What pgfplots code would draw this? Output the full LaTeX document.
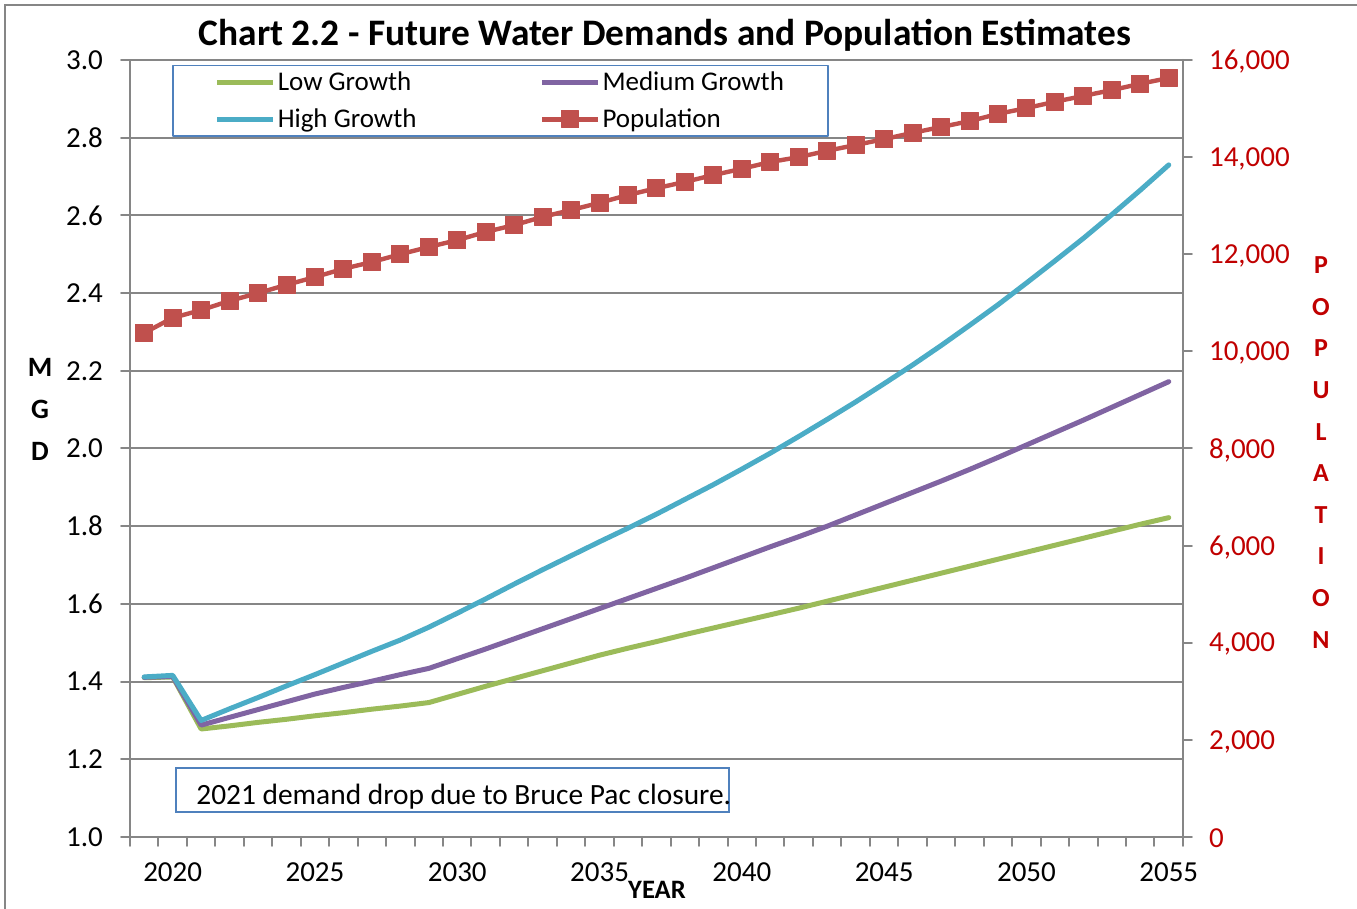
\documentclass[border=0pt]{standalone}
\usepackage{fontspec}
\setmainfont{Carlito}
\usepackage{pgfplots}
\usepackage{pgfplotstable}
\pgfplotsset{compat=1.18}
\definecolor{lowc}{HTML}{9BBB59}
\definecolor{medc}{HTML}{8064A2}
\definecolor{highc}{HTML}{4BACC6}
\definecolor{popc}{HTML}{C0504D}
\definecolor{gridc}{HTML}{868686}
\definecolor{redlab}{HTML}{C00000}
\definecolor{boxc}{HTML}{4F81BD}
\pgfplotstableread{
year low med high pop
2019 1.410 1.411 1.412 10380
2020 1.412 1.413 1.416 10690
2021 1.278 1.288 1.300 10850
2022 1.286 1.308 1.330 11040
2023 1.295 1.328 1.359 11200
2024 1.303 1.348 1.389 11370
2025 1.312 1.368 1.418 11530
2026 1.320 1.385 1.448 11700
2027 1.329 1.401 1.478 11840
2028 1.337 1.418 1.507 12000
2029 1.346 1.434 1.540 12150
2030 1.367 1.459 1.576 12290
2031 1.388 1.484 1.613 12460
2032 1.408 1.510 1.651 12600
2033 1.428 1.536 1.688 12770
2034 1.448 1.562 1.724 12910
2035 1.468 1.588 1.760 13060
2036 1.486 1.614 1.795 13220
2037 1.503 1.640 1.831 13360
2038 1.521 1.666 1.869 13490
2039 1.538 1.693 1.907 13630
2040 1.555 1.720 1.947 13760
2041 1.572 1.747 1.988 13900
2042 1.589 1.773 2.031 14000
2043 1.607 1.800 2.075 14130
2044 1.625 1.829 2.120 14250
2045 1.643 1.858 2.167 14370
2046 1.661 1.887 2.215 14500
2047 1.679 1.916 2.265 14620
2048 1.697 1.946 2.317 14740
2049 1.715 1.977 2.370 14890
2050 1.733 2.009 2.426 15010
2051 1.751 2.041 2.483 15140
2052 1.769 2.073 2.541 15260
2053 1.787 2.106 2.602 15380
2054 1.805 2.139 2.665 15510
2055 1.822 2.172 2.730 15630
}\data
\begin{document}
\begin{tikzpicture}
\begin{axis}[
  at={(65pt,36pt)}, anchor=south west,
  scale only axis, width=526.5pt, height=388.5pt,
  xmin=2018.5, xmax=2055.5, ymin=1, ymax=3,
  xtick={2018.5,2019.5,...,2055.5}, xticklabels={},
  extra x ticks={2020,2025,2030,2035,2040,2045,2050,2055},
  extra x tick labels={2020,2025,2030,2035,2040,2045,2050,2055},
  extra x tick style={tick style={draw=none}, grid=none},
  ytick={1,1.2,1.4,1.6,1.8,2,2.2,2.4,2.6,2.8,3},
  yticklabel style={xshift=-5.5pt, /pgf/number format/.cd, fixed, fixed zerofill, precision=1},
  ymajorgrids, grid style={gridc, line width=1pt},
  axis line style={gridc, line width=1pt},
  tick style={gridc, line width=1pt},
  tick align=outside, major tick length=4.5pt,
  xtick pos=left, ytick pos=left,
  ticklabel style={font=\fontsize{14.5}{16}\selectfont, text=black},
  xticklabel style={yshift=-5pt},
  /pgf/number format/assume math mode=true,
  line cap=round, line join=round,
]
\addplot[lowc, line width=2.5pt] table[x=year,y=low]{\data};
\addplot[medc, line width=2.5pt] table[x=year,y=med]{\data};
\addplot[highc, line width=2.5pt] table[x=year,y=high]{\data};
\end{axis}
\begin{axis}[
  at={(65pt,36pt)}, anchor=south west,
  scale only axis, width=526.5pt, height=388.5pt,
  xmin=2018.5, xmax=2055.5, ymin=0, ymax=16000,
  hide x axis, axis y line*=right,
  ytick={0,2000,4000,6000,8000,10000,12000,14000,16000},
  scaled y ticks=false,
  yticklabel style={xshift=5pt, yshift=-0.8pt, /pgf/number format/.cd, fixed, 1000 sep={,}, assume math mode=true},
  ticklabel style={font=\fontsize{14.5}{16}\selectfont, text=redlab},
  y axis line style={gridc, line width=1pt},
  tick style={gridc, line width=1pt},
  tick align=outside, major tick length=4.5pt,
  legend columns=2,
  legend cell align=left,
  legend image code/.code={\draw[mark repeat=2,mark phase=2,#1] plot coordinates {(0pt,0pt) (14pt,0pt) (28pt,0pt)};},
  legend style={at={(0.0399,0.9936)}, anchor=north west, draw=boxc, line width=0.75pt,
    font=\fontsize{13.5}{15}\selectfont, inner xsep=21pt, inner ysep=1pt, row sep=3.5pt,
    nodes={inner xsep=1pt},
    /tikz/column 2/.style={column sep=60.5pt}},
  line cap=round, line join=round,
]
\addlegendimage{lowc, line width=2.5pt}
\addlegendentry{Low Growth}
\addlegendimage{medc, line width=2.5pt}
\addlegendentry{Medium Growth}
\addlegendimage{highc, line width=2.5pt}
\addlegendentry{High Growth}
\addplot[popc, line width=2.2pt, mark=square*, mark size=4.25pt, mark options={fill=popc, draw=popc, line width=0.5pt}] table[x=year,y=pop]{\data};
\addlegendentry{Population}
\end{axis}
\draw[boxc, line width=0.75pt] (88pt,48.5pt) rectangle (364.5pt,70.5pt);
\node[anchor=base west, inner sep=0pt, font=\fontsize{14.7}{16}\selectfont] at (98pt,52pt) {2021 demand drop due to Bruce Pac closure.};
\node[font=\bfseries\fontsize{18.7}{21}\selectfont] at (332.5pt,437pt) {Chart 2.2 - Future Water Demands and Population Estimates};
\node[align=center, font=\bfseries\fontsize{14}{21}\selectfont] at (20pt,250pt) {M\\G\\D};
\node[align=center, text=redlab, font=\bfseries\fontsize{13}{20.8}\selectfont] at (660.5pt,228.25pt) {P\\O\\P\\U\\L\\A\\T\\I\\O\\N};
\node[font=\bfseries\fontsize{13.3}{15}\selectfont] at (328.5pt,9.5pt) {YEAR};
\draw[gridc, line width=1pt] (2.5pt,0pt) -- (2.5pt,452pt) -- (678.5pt,452pt);
\pgfresetboundingbox
\path[use as bounding box] (0,0) rectangle (678.5pt,454.5pt);
\end{tikzpicture}
\end{document}
